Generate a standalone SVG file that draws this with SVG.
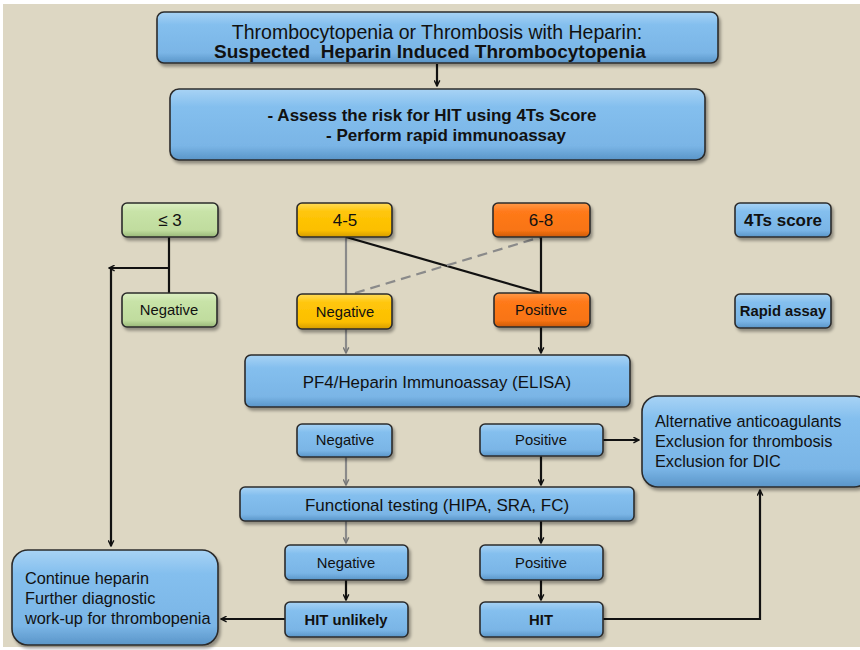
<svg xmlns="http://www.w3.org/2000/svg" width="860" height="650" viewBox="0 0 860 650">
<defs>
<linearGradient id="gBlue" x1="0" y1="0" x2="0" y2="1">
<stop offset="0" stop-color="#a8d3f5"/><stop offset="0.25" stop-color="#84bfee"/><stop offset="0.8" stop-color="#7ab5e6"/><stop offset="1" stop-color="#5a95c8"/>
</linearGradient>
<linearGradient id="gGreen" x1="0" y1="0" x2="0" y2="1">
<stop offset="0" stop-color="#dcefc4"/><stop offset="0.25" stop-color="#c8e3a8"/><stop offset="0.8" stop-color="#c0dc9e"/><stop offset="1" stop-color="#98b878"/>
</linearGradient>
<linearGradient id="gYellow" x1="0" y1="0" x2="0" y2="1">
<stop offset="0" stop-color="#ffdc5a"/><stop offset="0.25" stop-color="#ffc60a"/><stop offset="0.8" stop-color="#fcbf00"/><stop offset="1" stop-color="#d49c00"/>
</linearGradient>
<linearGradient id="gOrange" x1="0" y1="0" x2="0" y2="1">
<stop offset="0" stop-color="#ff9a4a"/><stop offset="0.25" stop-color="#ff7a1a"/><stop offset="0.8" stop-color="#f87414"/><stop offset="1" stop-color="#cc5a08"/>
</linearGradient>
<filter id="sh" x="-10%" y="-20%" width="125%" height="150%">
<feDropShadow dx="2" dy="3" stdDeviation="1.5" flood-color="#000" flood-opacity="0.35"/>
</filter>
<marker id="ab" viewBox="0 0 10 10" refX="9" refY="5" markerWidth="7" markerHeight="7" orient="auto" markerUnits="userSpaceOnUse">
<path d="M1,1 L9,5 L1,9" fill="none" stroke="#111" stroke-width="2"/>
</marker>
<marker id="ag" viewBox="0 0 10 10" refX="9" refY="5" markerWidth="7" markerHeight="7" orient="auto" markerUnits="userSpaceOnUse">
<path d="M1,1 L9,5 L1,9" fill="none" stroke="#777" stroke-width="2"/>
</marker>
<style>
.box{stroke:#2b2b2b;stroke-width:1.6;filter:url(#sh)}
.blue{fill:url(#gBlue)} .green{fill:url(#gGreen)} .yellow{fill:url(#gYellow)} .orange{fill:url(#gOrange)}
text{font-family:"Liberation Sans",Arial,sans-serif;fill:#111}
.c{text-anchor:middle}
.b{font-weight:bold}
.lb{stroke:#111;stroke-width:2.2;fill:none}
.lg{stroke:#8a8a8a;stroke-width:2.2;fill:none}
</style>
</defs>
<rect x="0" y="0" width="860" height="650" fill="#ffffff"/>
<rect x="3" y="4" width="857" height="643" fill="#ddd7c3"/>

<g id="connectors">
<path class="lb" d="M437,64 V86" marker-end="url(#ab)"/>
<path class="lb" d="M169,237 V293"/>
<path class="lb" d="M169,268 H109" marker-end="url(#ab)"/>
<path class="lb" d="M111,268 V546" marker-end="url(#ab)"/>
<path class="lg" d="M346,237 V294"/>
<path class="lb" d="M346,237 L541,293"/>
<path class="lg" d="M355,293 L541,237" stroke-dasharray="10,6"/>
<path class="lb" d="M541,237 V293"/>
<path class="lg" d="M346,329 V353" marker-end="url(#ag)"/>
<path class="lb" d="M541,327 V353" marker-end="url(#ab)"/>
<path class="lb" d="M603,440 H639" marker-end="url(#ab)"/>
<path class="lg" d="M346,457 V485" marker-end="url(#ag)"/>
<path class="lb" d="M541,456 V485" marker-end="url(#ab)"/>
<path class="lg" d="M346,521 V543" marker-end="url(#ag)"/>
<path class="lb" d="M541,521 V543" marker-end="url(#ab)"/>
<path class="lb" d="M346,580 V600" marker-end="url(#ab)"/>
<path class="lb" d="M541,580 V600" marker-end="url(#ab)"/>
<path class="lb" d="M285,619 H221" marker-end="url(#ab)"/>
<path class="lb" d="M603,619 H760 V490" marker-end="url(#ab)"/>
</g>

<g id="n-top">
<rect class="box blue" x="157" y="12" width="561" height="51" rx="7"/>
<text class="c" x="437" y="39" font-size="19.5">Thrombocytopenia or Thrombosis with Heparin:</text>
<text class="c b" x="430" y="58" font-size="19" xml:space="preserve">Suspected  Heparin Induced Thrombocytopenia</text>
</g>
<g id="n-assess">
<rect class="box blue" x="170" y="89" width="535" height="71" rx="9"/>
<text class="c b" x="432" y="121" font-size="17">- Assess the risk for HIT using 4Ts Score</text>
<text class="c b" x="446" y="141" font-size="17">- Perform rapid immunoassay</text>
</g>
<g id="n-le3">
<rect class="box green" x="122" y="203" width="96" height="34" rx="5"/>
<text class="c" x="170" y="226" font-size="17">≤ 3</text>
</g>
<g id="n-neg-green">
<rect class="box green" x="122" y="293" width="95" height="34" rx="5"/>
<text class="c" x="169" y="315" font-size="14.8">Negative</text>
</g>
<g id="n-45">
<rect class="box yellow" x="297" y="203" width="95" height="34" rx="5"/>
<text class="c" x="345" y="226" font-size="17">4-5</text>
</g>
<g id="n-neg-yellow">
<rect class="box yellow" x="297" y="294" width="95" height="35" rx="5"/>
<text class="c" x="345" y="317" font-size="14.8">Negative</text>
</g>
<g id="n-68">
<rect class="box orange" x="493" y="203" width="97" height="34" rx="5"/>
<text class="c" x="541" y="226" font-size="17">6-8</text>
</g>
<g id="n-pos-orange">
<rect class="box orange" x="494" y="293" width="96" height="34" rx="5"/>
<text class="c" x="541" y="315" font-size="14.8">Positive</text>
</g>
<g id="n-4ts">
<rect class="box blue" x="735" y="203" width="96" height="34" rx="5"/>
<text class="c b" x="783" y="226" font-size="17">4Ts score</text>
</g>
<g id="n-rapid">
<rect class="box blue" x="735" y="294" width="96" height="34" rx="5"/>
<text class="c b" x="783" y="316" font-size="14.8">Rapid assay</text>
</g>
<g id="n-elisa">
<rect class="box blue" x="245" y="355" width="385" height="52" rx="6"/>
<text class="c" x="437" y="388" font-size="16.9">PF4/Heparin Immunoassay (ELISA)</text>
</g>
<g id="n-alt">
<rect class="box blue" x="642" y="396" width="228" height="91" rx="16"/>
<text x="655" y="427" font-size="16.3">Alternative anticoagulants</text>
<text x="655" y="447" font-size="16.3">Exclusion for thrombosis</text>
<text x="655" y="467" font-size="16.3">Exclusion for DIC</text>
</g>
<g id="n-elisa-neg">
<rect class="box blue" x="297" y="424" width="95" height="33" rx="5"/>
<text class="c" x="345" y="445" font-size="14.8">Negative</text>
</g>
<g id="n-elisa-pos">
<rect class="box blue" x="480" y="424" width="123" height="32" rx="5"/>
<text class="c" x="541" y="445" font-size="14.8">Positive</text>
</g>
<g id="n-func">
<rect class="box blue" x="240" y="487" width="394" height="34" rx="5"/>
<text class="c" x="437" y="511" font-size="17">Functional testing (HIPA, SRA, FC)</text>
</g>
<g id="n-func-neg">
<rect class="box blue" x="285" y="545" width="123" height="35" rx="5"/>
<text class="c" x="346" y="568" font-size="14.8">Negative</text>
</g>
<g id="n-func-pos">
<rect class="box blue" x="480" y="545" width="123" height="35" rx="5"/>
<text class="c" x="541" y="568" font-size="14.8">Positive</text>
</g>
<g id="n-hit-unlikely">
<rect class="box blue" x="285" y="602" width="123" height="35" rx="5"/>
<text class="c b" x="346" y="625" font-size="14.8">HIT unlikely</text>
</g>
<g id="n-hit">
<rect class="box blue" x="480" y="602" width="123" height="35" rx="5"/>
<text class="c b" x="541" y="625" font-size="14.8">HIT</text>
</g>
<g id="n-continue">
<rect class="box blue" x="12" y="550" width="206" height="95" rx="16"/>
<text x="25" y="584" font-size="16.3">Continue heparin</text>
<text x="25" y="604" font-size="16.3">Further diagnostic</text>
<text x="25" y="624" font-size="16.3">work-up for thrombopenia</text>
</g>
</svg>
